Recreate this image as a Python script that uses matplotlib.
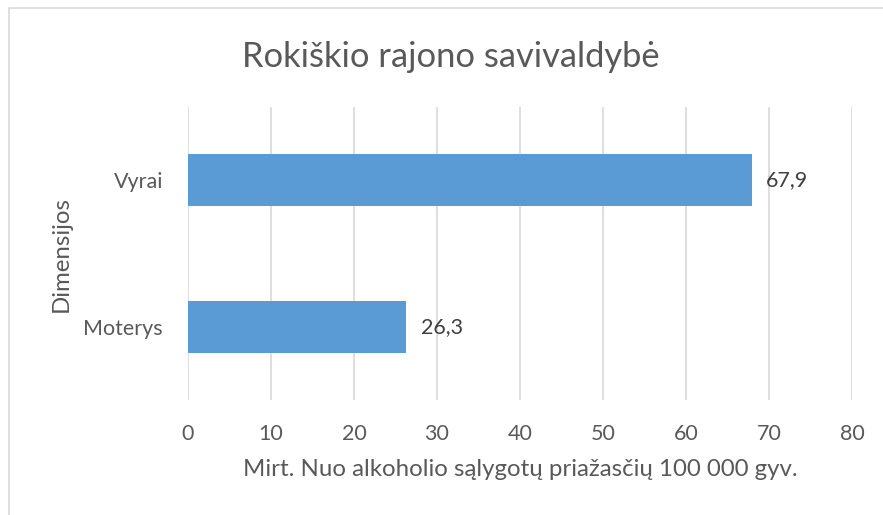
import matplotlib.pyplot as plt
from matplotlib.patches import Rectangle

categories = ['Moterys', 'Vyrai']
values = [26.3, 67.9]
labels = ['26,3', '67,9']
xticks = [0, 10, 20, 30, 40, 50, 60, 70, 80]

plt.rcParams['font.family'] = ['Lato', 'DejaVu Sans']
txt = '#595959'

fig = plt.figure(figsize=(8.83, 5.15), dpi=100)
ax = fig.add_axes([188/883, 115/515, 664/883, 293/515])

ypos = range(len(categories))
bars = ax.barh(ypos, values, height=0.355, color='#5B9BD5', zorder=3)
for b, lab in zip(bars, labels):
    ax.annotate(lab, (b.get_width(), b.get_y() + b.get_height()/2),
                xytext=(10.5, 0), textcoords='offset points',
                va='center', ha='left', fontsize=15.5, color='#404040')

ax.set_xlim(0, 80)
ax.set_ylim(-0.5, 1.5)
ax.set_xticks(xticks)
ax.set_xticklabels([str(t) for t in xticks])
ax.set_yticks(list(ypos))
ax.set_yticklabels(categories)
ax.tick_params(axis='both', length=0, labelsize=15.5, colors=txt)
ax.tick_params(axis='x', pad=17)
ax.tick_params(axis='y', pad=18)
ax.grid(axis='x', color='#d9d9d9', linewidth=1.2, zorder=0)
for s in ax.spines.values():
    s.set_visible(False)

ax.set_xlabel('Mirt. Nuo alkoholio sąlygotų priažasčių 100 000 gyv.',
              fontsize=17.3, color=txt, va='center')
ax.xaxis.set_label_coords(0.5, (400 - 470) / 293)
ax.set_ylabel('Dimensijos', fontsize=17.3, color=txt, va='center', ha='center')
ax.yaxis.set_label_coords((61 - 188) / 664, 0.5)
fig.text(451/883, 1 - 57/515, 'Rokiškio rajono savivaldybė',
         ha='center', va='center', fontsize=24.8, color=txt)

# chart border (only left and top visible)
fig.patches.append(Rectangle((9/883, -0.1), 1.2, (1 - 8/515) + 0.1,
                             transform=fig.transFigure, fill=False,
                             edgecolor='#d9d9d9', linewidth=1.2))

fig.savefig('out.png', dpi=100)
